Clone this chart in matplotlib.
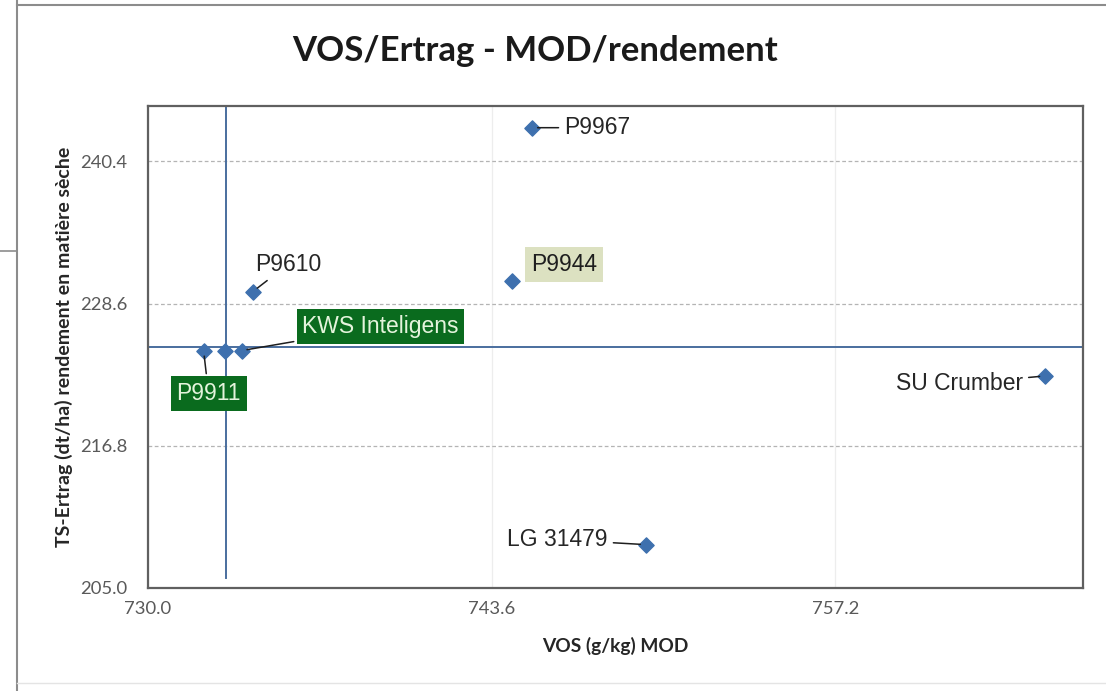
import matplotlib
matplotlib.use("Agg")
import matplotlib.pyplot as plt
from matplotlib.lines import Line2D

# data
names = ["P9967", "P9944", "P9610", "KWS Inteligens", "", "P9911", "SU Crumber", "LG 31479"]
vos = [745.2, 744.4, 734.15, 733.7, 733.05, 732.2, 765.5, 749.7]
ertrag = [243.2, 230.5, 229.6, 224.7, 224.7, 224.7, 222.6, 208.6]

ref_vos = 733.1
ref_ertrag = 225.0
x_ticks = [730.0, 743.6, 757.2]
y_ticks = [205.0, 216.8, 228.6, 240.4]
x_lim = (730.0, 767.0)
y_lim = (205.0, 245.0)

# label placement (pixel offsets) and style per point
label_style = {
    "P9967": dict(off=(32, 0), ha="left", box=None),
    "P9944": dict(off=(52, 16), ha="center", box=("#DCE1C1", "#1E1E1E")),
    "P9610": dict(off=(35, 27), ha="center", box=None),
    "KWS Inteligens": dict(off=(139, 24), ha="center", box=("#0A6B1E", "#E4F4DC")),
    "P9911": dict(off=(5, -43), ha="center", box=("#0A6B1E", "#E4F4DC")),
    "SU Crumber": dict(off=(-22, -8), ha="right", box=None),
    "LG 31479": dict(off=(-38, 5), ha="right", box=None),
}

W, H = 1106, 691
fig = plt.figure(figsize=(W / 100, H / 100), dpi=100)

# outer chart frame + fragment of a window at the top-left
fig.add_artist(Line2D([16.5 / W, 16.5 / W], [0, 1], color="#8C8C8C", lw=1.5))
fig.add_artist(Line2D([16.5 / W, 1], [1 - 5 / H, 1 - 5 / H], color="#8C8C8C", lw=1.5))
fig.add_artist(Line2D([0, 16.5 / W], [1 - 251 / H, 1 - 251 / H], color="#8C8C8C", lw=1.2))
fig.add_artist(Line2D([16.5 / W, 1], [1 - 683 / H, 1 - 683 / H], color="#E4E4E4", lw=1.0))

ax = fig.add_axes([148 / W, 1 - 588 / H, (1083 - 148) / W, (588 - 106) / H])

ax.set_xlim(*x_lim)
ax.set_ylim(*y_lim)
ax.set_xticks(x_ticks)
ax.set_yticks(y_ticks)
ax.set_xticklabels([f"{v:.1f}" for v in x_ticks])
ax.set_yticklabels([f"{v:.1f}" for v in y_ticks])
ax.tick_params(length=0, labelsize=13.3, labelcolor="#595959")
ax.tick_params(axis="y", pad=15)
ax.tick_params(axis="x", pad=9)
for lab in ax.get_xticklabels() + ax.get_yticklabels():
    lab.set_family("Lato")

ax.grid(axis="y", linestyle=(0, (3, 2)), color="#B4B4B4", lw=0.9)
ax.grid(axis="x", linestyle="-", color="#EDEDED", lw=0.9)
ax.set_axisbelow(True)
for sp in ax.spines.values():
    sp.set_color("#606060")
    sp.set_linewidth(1.6)

# reference lines
ax.plot([ref_vos, ref_vos], [205.8, y_lim[1]], color="#4A6E9E", lw=1.4, zorder=2)
ax.plot(list(x_lim), [ref_ertrag, ref_ertrag], color="#4A6E9E", lw=1.4, zorder=2)

ax.scatter(vos, ertrag, marker="D", s=60, color="#3E70AE", edgecolor="#3E70AE", zorder=4)

for n, x, y in zip(names, vos, ertrag):
    if not n:
        continue
    st = label_style[n]
    kw = dict(fontsize=16.5, family="Liberation Sans", ha=st["ha"], va="center", zorder=5)
    if st["box"]:
        kw["bbox"] = dict(boxstyle="square,pad=0.25", fc=st["box"][0], ec="none")
        kw["color"] = st["box"][1]
    else:
        kw["color"] = "#262626"
    arrow = None
    if n != "P9944":
        arrow = dict(arrowstyle="-", color="#1E1E1E", lw=1.1, shrinkA=2, shrinkB=4)
    ax.annotate(n, (x, y), xytext=st["off"], textcoords="offset pixels",
                arrowprops=arrow, **kw)

ax.set_xlabel("VOS (g/kg) MOD", family="Lato", fontweight="bold", fontsize=13.8, color="#262626", labelpad=15)
ax.set_ylabel("TS-Ertrag (dt/ha) rendement en matière sèche", family="Lato", fontweight="bold",
              fontsize=14, color="#262626", labelpad=5)

fig.text(535 / W, 1 - 51 / H, "VOS/Ertrag - MOD/rendement", family="Lato", fontweight="bold",
         fontsize=25, ha="center", va="center", color="#1A1A1A")

fig.savefig("out.png", dpi=100, facecolor="white")
